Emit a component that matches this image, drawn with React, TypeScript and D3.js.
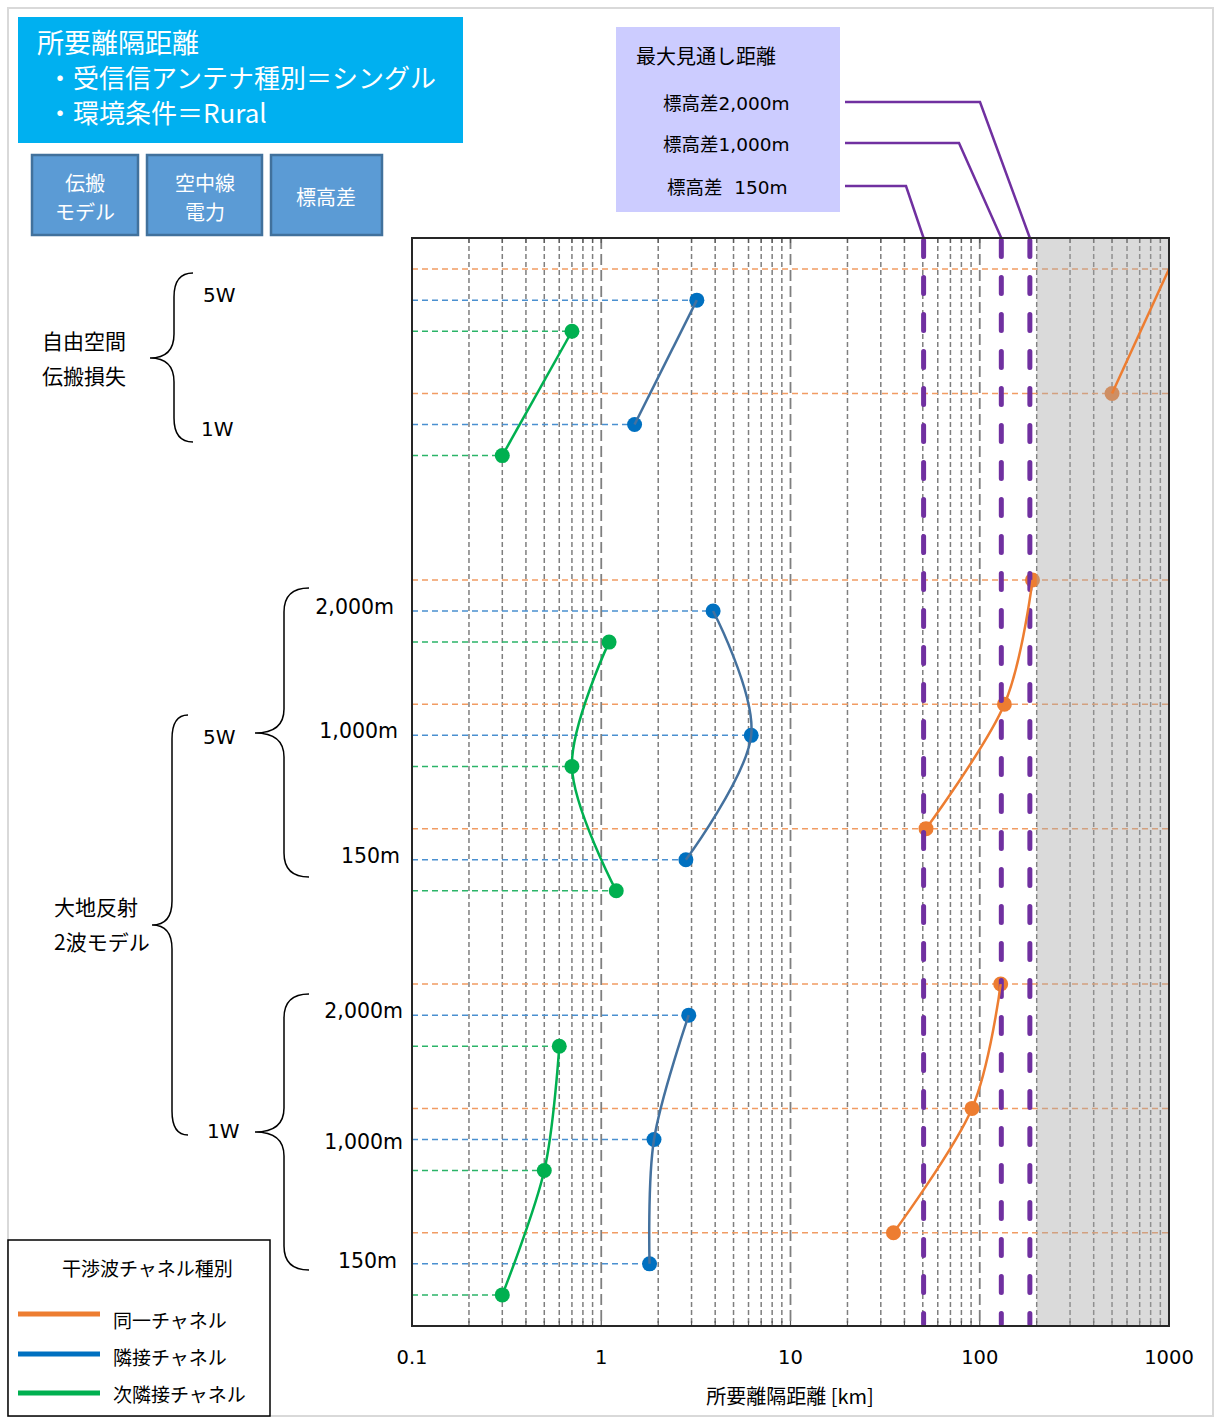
import React from 'react';
import * as d3 from 'd3';

// ---- data ----
const caseNames = ['自由空間 5W', '自由空間 1W', '大地反射 5W 2,000m', '大地反射 5W 1,000m', '大地反射 5W 150m', '大地反射 1W 2,000m', '大地反射 1W 1,000m', '大地反射 1W 150m'];
const caseRows = [0, 4, 10, 14, 18, 23, 27, 31];
const coChannelKm = [1000, 500, 190, 135, 52, 129, 91, 35];
const adjacentKm = [3.2, 1.5, 3.9, 6.2, 2.8, 2.9, 1.9, 1.8];
const nextAdjacentKm = [0.7, 0.3, 1.1, 0.7, 1.2, 0.6, 0.5, 0.3];
const curveGroups = [[0, 1], [2, 3, 4], [5, 6, 7]];
const seriesNames = ['同一チャネル', '隣接チャネル', '次隣接チャネル'];
const losLabels = ['標高差2,000m', '標高差1,000m', '標高差  150m'];
const losKm = [184, 130, 50.5];
const xTicks = [0.1, 1, 10, 100, 1000];
const xTickLabels = ['0.1', '1', '10', '100', '1000'];
const shadeFromKm = 200;

// ---- styles ----
const markerColors = ['#ED7D31', '#0070C0', '#00B050'];
const lineColors = ['#ED7D31', '#44719E', '#00B050'];
const guideColors = ['#F19C63', '#4A90D0', '#2BB468'];
const legendColors = ['#ED7D31', '#0070C0', '#00B050'];
const JP = "'Noto Sans CJK JP', sans-serif";
const MIX = "'DejaVu Sans', 'Noto Sans CJK JP', sans-serif";

const W = 1215, H = 1417;
const PL = 412, PR = 1169, PT = 238, PB = 1326;

function bracePath(vx: number, tipX: number, endX: number, top: number, mid: number, bottom: number) {
  const r = Math.min(24, (mid - top) / 3);
  return `M${endX},${top} Q${vx},${top} ${vx},${top + r} L${vx},${mid - r} Q${vx},${mid} ${tipX},${mid} Q${vx},${mid} ${vx},${mid + r} L${vx},${bottom - r} Q${vx},${bottom} ${endX},${bottom}`;
}

export default function App() {
  const x = d3.scaleLog().domain([0.1, 1000]).range([PL, PR]);
  const y = d3.scaleLinear().domain([-1, 34]).range([PT, PB]);

  const series = [coChannelKm, adjacentKm, nextAdjacentKm];

  const gridVals: number[] = [];
  [0.1, 1, 10, 100].forEach((d) => {
    for (let k = 1; k <= 9; k++) {
      const v = d * k;
      if (k === 1 && d === 0.1) continue;
      gridVals.push(v);
    }
  });

  const line = d3
    .line<[number, number]>()
    .x((d) => x(d[0]))
    .y((d) => y(d[1]))
    .curve(d3.curveCardinal.tension(0));

  const losLabelY = [103, 144, 187];
  const losBendX = [980, 959, 906];

  return (
    <svg width={W} height={H} style={{ position: 'absolute', left: 0, top: 0, background: '#fff' }}>
      <defs>
        <clipPath id="plotClip">
          <rect x={PL} y={PT} width={PR - PL} height={PB - PT} />
        </clipPath>
      </defs>
      <rect x={0} y={0} width={W} height={H} fill="#fff" />
      <rect x={8} y={8} width={1205} height={1408} fill="none" stroke="#D9D9D9" strokeWidth={2} />

      {/* title */}
      <rect x={18} y={17} width={445} height={126} fill="#00B0F0" />
      <text x={37} y={41} fontFamily={JP} fontSize={27} fill="#fff" dominantBaseline="central">所要離隔距離</text>
      <text x={47} y={76} fontFamily={JP} fontSize={26} fill="#fff" dominantBaseline="central">・受信信アンテナ種別＝シングル</text>
      <text x={47} y={111} fontFamily={JP} fontSize={26} fill="#fff" dominantBaseline="central">・環境条件＝Rural</text>

      {/* header buttons */}
      <rect x={32} y={155} width={106} height={80} fill="#5B9BD5" stroke="#41719C" strokeWidth={2.5} />
      <text x={85} y={182} fontFamily={JP} fontSize={20} fill="#fff" textAnchor="middle" dominantBaseline="central">伝搬</text>
      <text x={85} y={211} fontFamily={JP} fontSize={20} fill="#fff" textAnchor="middle" dominantBaseline="central">モデル</text>
      <rect x={147} y={155} width={115} height={80} fill="#5B9BD5" stroke="#41719C" strokeWidth={2.5} />
      <text x={205} y={182} fontFamily={JP} fontSize={20} fill="#fff" textAnchor="middle" dominantBaseline="central">空中線</text>
      <text x={205} y={211} fontFamily={JP} fontSize={20} fill="#fff" textAnchor="middle" dominantBaseline="central">電力</text>
      <rect x={271} y={155} width={111} height={80} fill="#5B9BD5" stroke="#41719C" strokeWidth={2.5} />
      <text x={326} y={196} fontFamily={JP} fontSize={20} fill="#fff" textAnchor="middle" dominantBaseline="central">標高差</text>

      {/* LOS label box */}
      <rect x={616} y={27} width={224} height={185} fill="#CCCCFF" />
      <text x={636} y={55} fontFamily={JP} fontSize={20} fill="#000" dominantBaseline="central">最大見通し距離</text>
      {losLabels.map((t, i) => (
        <text key={t} x={i === 2 ? 667 : 663} y={losLabelY[i]} fontFamily={MIX} fontSize={18.5} fill="#000" dominantBaseline="central" style={{ whiteSpace: 'pre' }}>{t}</text>
      ))}
      {losKm.map((v, i) => (
        <path key={'c' + i} d={`M845,${losLabelY[i] - 1} H${losBendX[i]} L${x(v)},${PT}`} fill="none" stroke="#7030A0" strokeWidth={2.5} />
      ))}

      {/* plot: grid */}
      {gridVals.map((v) => {
        const decade = Math.abs(Math.log10(v) - Math.round(Math.log10(v))) < 1e-9;
        return (
          <line key={'g' + v} x1={x(v)} x2={x(v)} y1={PT} y2={PB} stroke="#7F7F7F" strokeWidth={decade ? 1.8 : 1.5} strokeDasharray={decade ? '11,5' : '5,3'} />
        );
      })}
      {gridVals.map((v) => (
        <g key={'t' + v}>
          <line x1={x(v)} x2={x(v)} y1={PT} y2={PT + 5} stroke="#595959" strokeWidth={1.2} />
          <line x1={x(v)} x2={x(v)} y1={PB - 5} y2={PB} stroke="#595959" strokeWidth={1.2} />
        </g>
      ))}

      {/* horizontal guide lines */}
      {series.map((vals, s) =>
        vals.map((v, i) => (
          <line
            key={`h${s}-${i}`}
            x1={PL}
            x2={s === 0 ? PR : Math.min(PR, x(v))}
            y1={y(caseRows[i] + s)}
            y2={y(caseRows[i] + s)}
            stroke={guideColors[s]}
            strokeWidth={1.5}
            strokeDasharray="6,4"
          />
        ))
      )}

      {/* markers */}
      <g clipPath="url(#plotClip)">
        {series.map((vals, s) =>
          vals.map((v, i) =>
            v < 1000 ? (
              <circle key={`m${s}-${i}`} cx={x(v)} cy={y(caseRows[i] + s)} r={7.5} fill={markerColors[s]} />
            ) : null
          )
        )}
      </g>

      {/* shaded area beyond LOS (translucent) */}
      <rect x={x(shadeFromKm)} y={PT} width={PR - x(shadeFromKm)} height={PB - PT} fill="#A6A6A6" opacity={0.42} />

      {/* LOS lines */}
      {losKm.map((v, i) => (
        <line key={'los' + i} x1={x(v)} x2={x(v)} y1={PT + 2.5} y2={PB - 2} stroke="#7030A0" strokeWidth={5} strokeDasharray="16,21" strokeLinecap="round" />
      ))}

      {/* curves */}
      <g clipPath="url(#plotClip)">
        {series.map((vals, s) =>
          curveGroups.map((g, gi) => (
            <path
              key={`l${s}-${gi}`}
              d={line(g.map((i) => [vals[i], caseRows[i] + s] as [number, number])) || ''}
              fill="none"
              stroke={lineColors[s]}
              strokeWidth={2.5}
            />
          ))
        )}
      </g>

      {/* frame */}
      <rect x={PL} y={PT} width={PR - PL} height={PB - PT} fill="none" stroke="#262626" strokeWidth={2} />

      {/* x axis labels */}
      {xTicks.map((t, i) => (
        <text key={'xl' + t} x={x(t)} y={1357} fontFamily={MIX} fontSize={19.5} fill="#000" textAnchor="middle" dominantBaseline="central">{xTickLabels[i]}</text>
      ))}
      <text x={790} y={1395} fontFamily={JP} fontSize={20} fill="#000" textAnchor="middle" dominantBaseline="central" style={{ whiteSpace: 'pre' }}>所要離隔距離 [km]</text>

      {/* left annotations */}
      <text x={42} y={340} fontFamily={JP} fontSize={21} fill="#000" dominantBaseline="central">自由空間</text>
      <text x={42} y={375} fontFamily={JP} fontSize={21} fill="#000" dominantBaseline="central">伝搬損失</text>
      <path d={bracePath(174, 150, 193, 273, 358, 442)} fill="none" stroke="#000" strokeWidth={1.5} />
      <text x={203} y={295} fontFamily={MIX} fontSize={20} fill="#000" dominantBaseline="central">5W</text>
      <text x={201} y={429} fontFamily={MIX} fontSize={20} fill="#000" dominantBaseline="central">1W</text>

      <text x={54} y={906} fontFamily={JP} fontSize={21} fill="#000" dominantBaseline="central">大地反射</text>
      <text x={54} y={941} fontFamily={JP} fontSize={21} fill="#000" dominantBaseline="central">2波モデル</text>
      <path d={bracePath(172, 152, 188, 715, 925, 1135)} fill="none" stroke="#000" strokeWidth={1.5} />
      <text x={203} y={737} fontFamily={MIX} fontSize={20} fill="#000" dominantBaseline="central">5W</text>
      <text x={207} y={1131} fontFamily={MIX} fontSize={20} fill="#000" dominantBaseline="central">1W</text>

      <path d={bracePath(284, 255, 309, 588, 733, 877)} fill="none" stroke="#000" strokeWidth={1.5} />
      <text x={394} y={607} fontFamily={MIX} fontSize={20.5} fill="#000" textAnchor="end" dominantBaseline="central">2,000m</text>
      <text x={398} y={731} fontFamily={MIX} fontSize={20.5} fill="#000" textAnchor="end" dominantBaseline="central">1,000m</text>
      <text x={400} y={856} fontFamily={MIX} fontSize={20.5} fill="#000" textAnchor="end" dominantBaseline="central">150m</text>

      <path d={bracePath(284, 255, 309, 994, 1132, 1270)} fill="none" stroke="#000" strokeWidth={1.5} />
      <text x={403} y={1011} fontFamily={MIX} fontSize={20.5} fill="#000" textAnchor="end" dominantBaseline="central">2,000m</text>
      <text x={403} y={1142} fontFamily={MIX} fontSize={20.5} fill="#000" textAnchor="end" dominantBaseline="central">1,000m</text>
      <text x={397} y={1261} fontFamily={MIX} fontSize={20.5} fill="#000" textAnchor="end" dominantBaseline="central">150m</text>

      {/* legend */}
      <rect x={8} y={1240} width={262} height={176} fill="#fff" stroke="#000" strokeWidth={1.5} />
      <text x={62} y={1267} fontFamily={JP} fontSize={19} fill="#000" dominantBaseline="central">干渉波チャネル種別</text>
      {seriesNames.map((n, i) => (
        <g key={n}>
          <line x1={18} x2={100} y1={[1314, 1354, 1393][i]} y2={[1314, 1354, 1393][i]} stroke={legendColors[i]} strokeWidth={5} />
          <text x={113} y={[1319, 1356, 1393][i]} fontFamily={JP} fontSize={19} fill="#000" dominantBaseline="central">{n}</text>
        </g>
      ))}
    </svg>
  );
}
